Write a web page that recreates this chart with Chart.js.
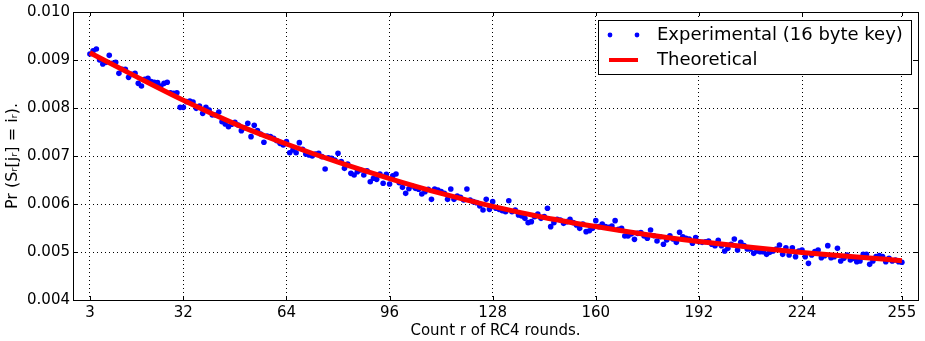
<!DOCTYPE html>
<html lang="en">
<head>
    <meta charset="utf-8" />
    <title>Pr (S_r[j_r] = i_r) vs RC4 rounds</title>
    <script src="https://cdn.jsdelivr.net/npm/chart.js@4"></script>
    <style>
        html, body { margin: 0; padding: 0; background: #fff; }
        #wrap { width: 925px; height: 341px; }
    </style>
</head>
<body>
    <div id="wrap"><canvas id="rc4Chart" width="925" height="341"></canvas></div>

    <script>
        // rounds 3..255, one experimental value per round
        const firstRound = 3;
        const xTicks = [3, 32, 64, 96, 128, 160, 192, 224, 255];
        const yTicks = [0.004, 0.005, 0.006, 0.007, 0.008, 0.009, 0.010];

        const experimental = [
            0.009125, 0.009194, 0.009229, 0.009000, 0.008917, 0.008951, 0.009097, 0.008931, 0.008951, 0.008722,
            0.008806, 0.008806, 0.008639, 0.008701, 0.008722, 0.008514, 0.008458, 0.008597, 0.008618, 0.008549,
            0.008535, 0.008528, 0.008458, 0.008514, 0.008535, 0.008319, 0.008306, 0.008319, 0.008014, 0.008014,
            0.008132, 0.008146, 0.008125, 0.007993, 0.008042, 0.007889, 0.008014, 0.007958, 0.007854, 0.007854,
            0.007917, 0.007715, 0.007667, 0.007611,
            0.007660, 0.007701, 0.007646, 0.007528, 0.007590, 0.007681, 0.007403, 0.007639, 0.007528, 0.007458,
            0.007285, 0.007417, 0.007403, 0.007368, 0.007319, 0.007264, 0.007229, 0.007299, 0.007069, 0.007125,
            0.007069, 0.007278, 0.007139, 0.007042, 0.007021, 0.007000, 0.007042, 0.007056, 0.006986, 0.006729,
            0.006965, 0.006951, 0.006917, 0.007056, 0.006882, 0.006743, 0.006833, 0.006639, 0.006604, 0.006674,
            0.006708, 0.006604, 0.006694,
            0.006465, 0.006535, 0.006514, 0.006625, 0.006431, 0.006618, 0.006417, 0.006590, 0.006625, 0.006444,
            0.006347, 0.006222, 0.006319, 0.006375, 0.006326, 0.006306, 0.006208, 0.006257, 0.006306, 0.006097,
            0.006313, 0.006292, 0.006257, 0.006222, 0.006097, 0.006313, 0.006097, 0.006167, 0.006139, 0.006083,
            0.006313, 0.006083, 0.006049, 0.006028, 0.005958, 0.005875, 0.006097, 0.005889, 0.006049, 0.005910,
            0.005889, 0.005861, 0.005840, 0.006069,
            0.005840, 0.005875, 0.005771, 0.005750, 0.005701, 0.005611, 0.005632, 0.005736, 0.005792, 0.005701,
            0.005736, 0.005910, 0.005528, 0.005611, 0.005681, 0.005667, 0.005597, 0.005632, 0.005681, 0.005611,
            0.005563, 0.005493, 0.005583, 0.005424, 0.005444, 0.005493, 0.005653, 0.005528, 0.005583, 0.005528,
            0.005514, 0.005542, 0.005653, 0.005472, 0.005493, 0.005333, 0.005333, 0.005375, 0.005264, 0.005389,
            0.005403, 0.005333, 0.005285,
            0.005458, 0.005340, 0.005229, 0.005319, 0.005160, 0.005250, 0.005340, 0.005271, 0.005201, 0.005410,
            0.005319, 0.005285, 0.005271, 0.005181, 0.005299, 0.005215, 0.005201, 0.005215, 0.005229, 0.005160,
            0.005132, 0.005243, 0.005132, 0.005021, 0.005076, 0.005160, 0.005271, 0.005042, 0.005201, 0.005132,
            0.005063, 0.005063, 0.004972, 0.005021, 0.005007, 0.005007, 0.004951, 0.004993, 0.005021, 0.005063,
            0.005146, 0.004951, 0.005090, 0.004938,
            0.005090, 0.004903, 0.005021, 0.005042, 0.004903, 0.004764, 0.004938, 0.005007, 0.005042, 0.004882,
            0.004924, 0.005132, 0.004882, 0.004903, 0.005076, 0.004813, 0.004868, 0.004938, 0.004833, 0.004868,
            0.004799, 0.004813, 0.004951, 0.004951, 0.004743, 0.004813, 0.004903, 0.004924, 0.004903, 0.004799,
            0.004868, 0.004813, 0.004833, 0.004799, 0.004785
        ];

        const theoryRounds = [3, 16, 32, 48, 64, 80, 96, 112, 128, 144, 160, 176, 192, 208, 224, 240, 255];
        const theoryValues = [0.00915, 0.00870, 0.00816, 0.00767, 0.00725, 0.00687, 0.00653, 0.00622, 0.00595,
                              0.00572, 0.00553, 0.00536, 0.00522, 0.00510, 0.00499, 0.00490, 0.00482];

        const expPoints = experimental.map((v, i) => ({ x: firstRound + i, y: v }));
        const theoryPoints = theoryRounds.map((r, i) => ({ x: r, y: theoryValues[i] }));

        Chart.defaults.font.family = "'DejaVu Sans', sans-serif";
        Chart.defaults.color = '#000';

        // frame, inward ticks and the matplotlib style legend
        const framePlugin = {
            id: 'frame',
            afterDraw(chart) {
                const { ctx, chartArea: a, scales } = chart;
                ctx.save();
                ctx.strokeStyle = '#000';
                ctx.lineWidth = 1;
                ctx.beginPath();
                xTicks.forEach(t => {
                    const px = Math.round(scales.x.getPixelForValue(t)) + 0.5;
                    ctx.moveTo(px, a.bottom); ctx.lineTo(px, a.bottom - 4);
                    ctx.moveTo(px, a.top); ctx.lineTo(px, a.top + 4);
                });
                yTicks.forEach(t => {
                    const py = Math.round(scales.y.getPixelForValue(t)) + 0.5;
                    ctx.moveTo(a.left, py); ctx.lineTo(a.left + 4, py);
                    ctx.moveTo(a.right, py); ctx.lineTo(a.right - 4, py);
                });
                ctx.stroke();
                ctx.strokeRect(a.left + 0.5, a.top + 0.5, a.right - a.left, a.bottom - a.top);

                // legend box
                const bx = a.right - 320, by = a.top + 8, bw = 313, bh = 54;
                ctx.fillStyle = '#fff';
                ctx.fillRect(bx, by, bw, bh);
                ctx.strokeRect(bx + 0.5, by + 0.5, bw, bh);

                ctx.fillStyle = '#0000ff';
                [bx + 12, bx + 39].forEach(cx => {
                    ctx.beginPath();
                    ctx.arc(cx, by + 15, 2.4, 0, Math.PI * 2);
                    ctx.fill();
                });
                ctx.strokeStyle = '#ff0000';
                ctx.lineWidth = 4;
                ctx.beginPath();
                ctx.moveTo(bx + 11, by + 40);
                ctx.lineTo(bx + 40, by + 40);
                ctx.stroke();

                ctx.fillStyle = '#000';
                ctx.font = "18px 'DejaVu Sans'";
                ctx.textBaseline = 'middle';
                ctx.fillText('Experimental (16 byte key)', bx + 59, by + 15);
                ctx.fillText('Theoretical', bx + 59, by + 40);
                ctx.restore();
            }
        };

        const ctx = document.getElementById('rc4Chart').getContext('2d');
        new Chart(ctx, {
            type: 'scatter',
            data: {
                datasets: [{
                    type: 'line',
                    label: 'Theoretical',
                    data: theoryPoints,
                    borderColor: '#ff0000',
                    borderWidth: 5,
                    pointRadius: 0,
                    showLine: true,
                    fill: false,
                    cubicInterpolationMode: 'monotone',
                    order: 0
                }, {
                    label: 'Experimental (16 byte key)',
                    data: expPoints,
                    backgroundColor: '#0000ff',
                    borderColor: '#0000ff',
                    borderWidth: 0,
                    pointRadius: 2.8,
                    order: 1
                }]
            },
            options: {
                responsive: false,
                animation: false,
                events: [],
                layout: { padding: { top: 12, right: 7, left: 0, bottom: 0 } },
                plugins: {
                    legend: { display: false },
                    tooltip: { enabled: false }
                },
                scales: {
                    x: {
                        type: 'linear',
                        min: -2.25,
                        max: 260,
                        afterBuildTicks: scale => { scale.ticks = xTicks.map(v => ({ value: v })); },
                        afterFit: scale => { scale.height = 41; },
                        ticks: { font: { size: 15 }, padding: 4, maxRotation: 0, autoSkip: false },
                        grid: { color: '#000', lineWidth: 1, drawTicks: false, borderDash: [1, 3] },
                        border: { display: false, dash: [1, 3] },
                        title: { display: true, text: 'Count r of RC4 rounds.', font: { size: 15 }, padding: { top: 0, bottom: 1 } }
                    },
                    y: {
                        min: 0.004,
                        max: 0.010,
                        afterBuildTicks: scale => { scale.ticks = yTicks.map(v => ({ value: v })); },
                        afterFit: scale => { scale.width = 73; },
                        ticks: { font: { size: 15 }, padding: 3, callback: v => v.toFixed(3) },
                        grid: { color: '#000', lineWidth: 1, drawTicks: false, borderDash: [1, 3] },
                        border: { display: false, dash: [1, 3] },
                        title: { display: true, text: 'Pr (Sᵣ[jᵣ] = iᵣ).', font: { size: 16 }, padding: { top: 3, bottom: 0 } }
                    }
                }
            },
            plugins: [framePlugin]
        });
    </script>
</body>
</html>
